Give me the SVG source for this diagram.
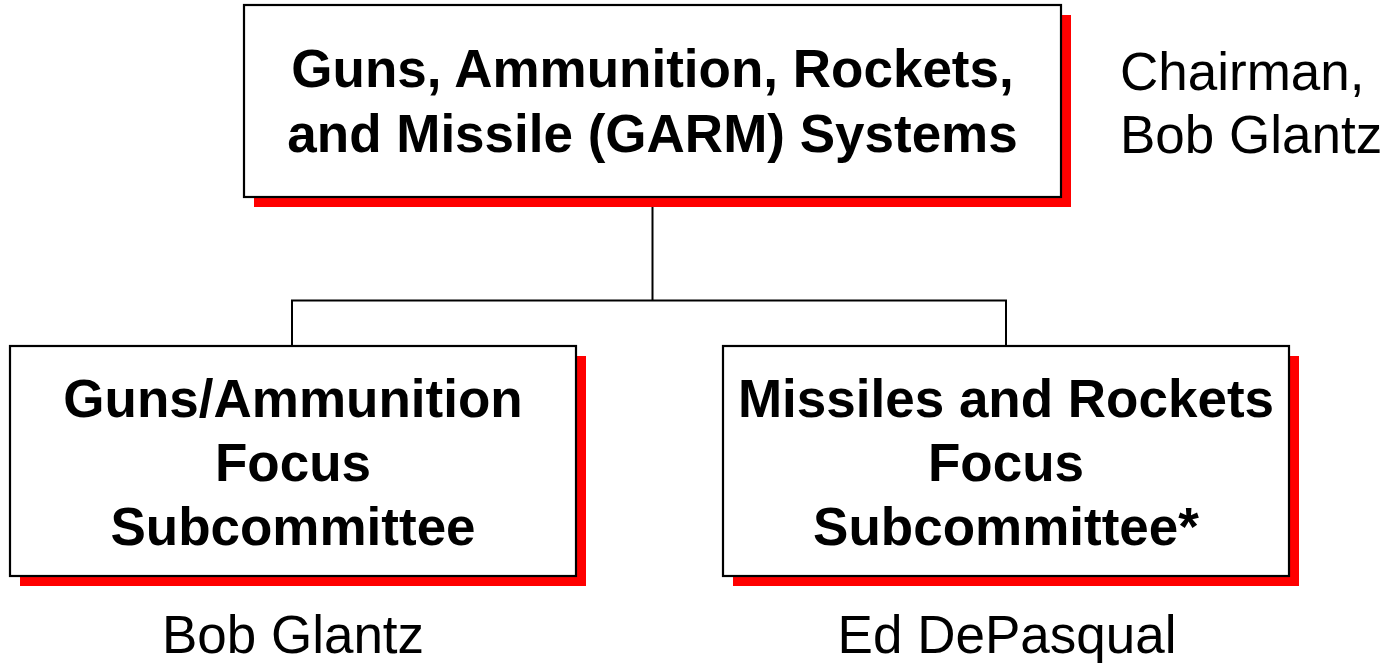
<svg xmlns="http://www.w3.org/2000/svg" width="1392" height="663" viewBox="0 0 1392 663">
<style>
.shadow{fill:#ff0000;stroke:none}
.box{fill:#ffffff;stroke:#000000;stroke-width:2.2}
.t{font-family:"Liberation Sans",Arial,sans-serif;font-size:53px;fill:#000000}
.b{font-weight:bold;text-anchor:middle}
.c{fill:none;stroke:#000000;stroke-width:2}
</style>
<rect width="1392" height="663" fill="#ffffff"/>
<g id="connectors">
<path class="c" d="M652.5 207V300.5M292 346V300.5H1006V346"/>
</g>
<g id="garm">
<rect class="shadow" x="254" y="15" width="817" height="192"/>
<rect class="box" x="244" y="5" width="817" height="192"/>
<text class="t b" x="652.5" y="87">Guns, Ammunition, Rockets,</text>
<text class="t b" x="652.5" y="152">and Missile (GARM) Systems</text>
</g>
<g id="chairman">
<text class="t" x="1120" y="90">Chairman,</text>
<text class="t" x="1120" y="153">Bob Glantz</text>
</g>
<g id="guns">
<rect class="shadow" x="20" y="356" width="566" height="230"/>
<rect class="box" x="10" y="346" width="566" height="230"/>
<text class="t b" x="293" y="417">Guns/Ammunition</text>
<text class="t b" x="293" y="481">Focus</text>
<text class="t b" x="293" y="545">Subcommittee</text>
</g>
<g id="guns-lead">
<text class="t" x="293" y="653" text-anchor="middle">Bob Glantz</text>
</g>
<g id="missiles">
<rect class="shadow" x="733" y="356" width="566" height="230"/>
<rect class="box" x="723" y="346" width="566" height="230"/>
<text class="t b" x="1006" y="417">Missiles and Rockets</text>
<text class="t b" x="1006" y="481">Focus</text>
<text class="t b" x="1006" y="545">Subcommittee*</text>
</g>
<g id="missiles-lead">
<text class="t" x="1007" y="653" text-anchor="middle">Ed DePasqual</text>
</g>
</svg>
